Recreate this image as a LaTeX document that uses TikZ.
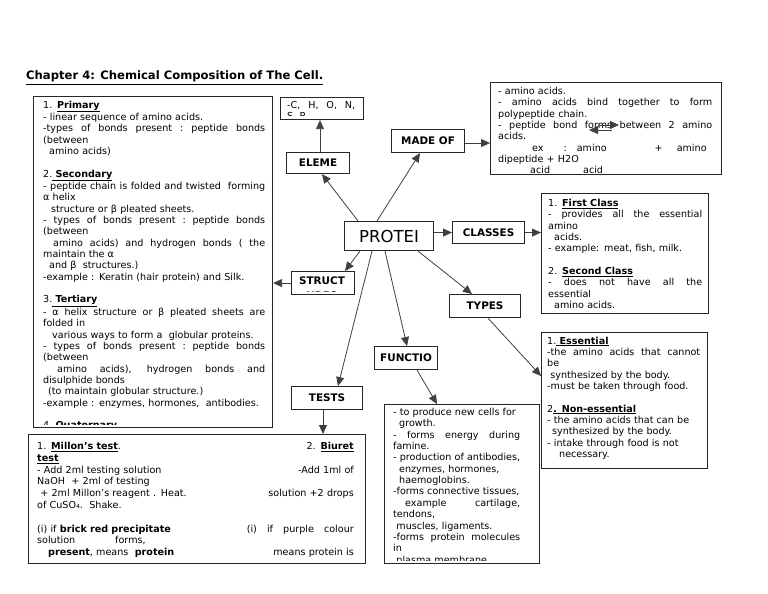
\documentclass[tikz,border=0pt]{standalone}
\usepackage{fontspec}
\setmainfont{DejaVu Sans}
\usetikzlibrary{arrows.meta}
\newcommand\bodyf{\fontsize{9.6pt}{11.35pt}\selectfont}
\newcommand\testf{\fontsize{9.6pt}{11.8pt}\selectfont}
\newcommand\labf{\fontsize{10.4pt}{12pt}\selectfont\bfseries}
\newcommand\ub[1]{\textbf{\underline{#1}}}
\newlength\jw
\newcommand\J[1]{\makebox[\jw][s]{\spaceskip=.318em plus 1em\relax\xspaceskip=.318em plus 1em\relax #1}}
\newcommand\BL{\mbox{}}
\begin{document}
\begin{tikzpicture}[x=1pt,y=-1pt,
  box/.style={draw=black!85, line width=1.1pt, inner sep=0pt, anchor=north west},
  lab/.style={font=\labf},
  conn/.style={draw=black!75, line width=0.8pt, -{Triangle[length=9pt,width=8pt]}},
  txt/.style={anchor=base west, inner sep=0pt, align=left, font=\bodyf},
]
\fill[white] (0,0) rectangle (768,594);
\useasboundingbox (0,0) rectangle (768,594);

% title
\node[anchor=base west, inner sep=0pt, font=\fontsize{11.6pt}{14pt}\selectfont\bfseries] (title) at (26,80) {\underline{Chapter 4: Chemical Composition of The Cell.}};

% boxes
\node[box, minimum width=239pt, minimum height=331pt] (structbox) at (33,96) {};
\node[box, minimum width=83pt, minimum height=22pt] (chon) at (280,97) {};
\node[box, lab, minimum width=63pt, minimum height=21pt] (eleme) at (286,152) {ELEME};
\node[box, lab, minimum width=73pt, minimum height=23pt] (madeof) at (391,129) {MADE OF};
\node[box, minimum width=231pt, minimum height=92pt] (madebox) at (490,82) {};
\node[box, minimum width=89pt, minimum height=29pt, font=\fontsize{16.5pt}{18pt}\selectfont] (protei) at (344,221) {PROTEI};
\node[box, lab, minimum width=72pt, minimum height=22pt] (classes) at (452,221) {CLASSES};
\node[box, minimum width=167pt, minimum height=120pt] (classbox) at (541,193) {};
\node[box, minimum width=63pt, minimum height=23pt] (struct) at (291,271) {};
\node[box, lab, minimum width=71pt, minimum height=23pt] (types) at (449,294) {TYPES};
\node[box, minimum width=166pt, minimum height=136pt] (typebox) at (541,332) {};
\node[box, lab, minimum width=63pt, minimum height=23pt] (functio) at (374,346) {FUNCTIO};
\node[box, lab, minimum width=71pt, minimum height=23pt] (tests) at (291,386) {TESTS};
\node[box, minimum width=155pt, minimum height=159pt] (funcbox) at (384,404) {};
\node[box, minimum width=337pt, minimum height=129pt] (testbox) at (28,434) {};

% STRUCT label (second line cut)
\begin{scope}
\clip (292,272) rectangle (353,291.5);
\node[lab, anchor=base, inner sep=0pt] (structlab) at (322,284) {STRUCT};
\node[lab, anchor=base, inner sep=0pt] (structlab2) at (322,299) {URES};
\end{scope}

% CHON text
\begin{scope}
\clip (281,98) rectangle (362,115);
\node[txt, text width=68pt] (chontxt) at (287,108) {\setlength\jw{68pt}\J{-C, H, O, N,}\\S, P};
\end{scope}

% structure text
\begin{scope}
\clip (34,97) rectangle (271,424);
\node[txt, text width=222pt] (structtxt) at (43,108) {\setlength\jw{222pt}%
1. \ub{Primary}\\
- linear sequence of amino acids.\\
\J{-types of bonds present : peptide bonds}\\
(between\\
\hspace*{6pt}amino acids)\\
\BL\\
2.\ub{\ Secondary}\\
\J{- peptide chain is folded and twisted\ \ forming}\\
α helix\\
\hspace*{8pt}structure or β pleated sheets.\\
\J{- types of bonds present : peptide bonds}\\
(between\\
\J{\hspace*{10pt}amino acids) and hydrogen bonds ( the}\\
maintain the α\\
\hspace*{6pt}and β\ \ structures.)\\
-example : Keratin (hair protein) and Silk.\\
\BL\\
3.\ub{\ Tertiary}\\
\J{- α helix structure or β pleated sheets are}\\
folded in\\
\hspace*{9pt}various ways to form a\ \ globular proteins.\\
\J{- types of bonds present : peptide bonds}\\
(between\\
\J{\hspace*{14pt}amino acids), hydrogen bonds and}\\
disulphide bonds\\
\hspace*{5pt}(to maintain globular structure.)\\
-example : enzymes, hormones,\ \ antibodies.\\
\BL\\
4.\ub{\ Quaternary}};
\end{scope}

% made of text
\begin{scope}
\clip (491,83) rectangle (720,172);
\node[txt, text width=214pt] (madetxt) at (498,94.5) {\setlength\jw{214pt}%
- amino acids.\\
\J{- amino acids bind together to form}\\
polypeptide chain.\\
\J{- peptide bond forms between 2 amino}\\
acids.\\
\hspace*{34pt}ex\hspace{20pt}:\hspace{10pt}amino\hspace{48pt}+\hspace{14pt}amino\\
dipeptide + H2O\\
\hspace*{32pt}acid\hspace{33pt}acid};
\end{scope}
\coordinate (ma1) at (598,125);
\coordinate (ma2) at (619,125);
\coordinate (mb1) at (612,130);
\coordinate (mb2) at (589,130);
\draw[conn] (ma1) -- (ma2);
\draw[conn] (mb1) -- (mb2);

% classes text
\node[txt, text width=154pt] (classtxt) at (548,206.5) {\setlength\jw{154pt}%
1. \ub{First Class}\\
\J{- provides all the essential}\\
amino\\
\hspace*{6pt}acids.\\
- example: meat, fish, milk.\\
\BL\\
2. \ub{Second Class}\\
\J{- does not have all the}\\
essential\\
\hspace*{6pt}amino acids.};

% types text
\node[txt, text width=153pt] (typetxt) at (547,344) {\setlength\jw{153pt}%
1.\ub{\ Essential}\\
\J{-the amino acids that cannot}\\
be\\
\ synthesized by the body.\\
-must be taken through food.\\
\BL\\
2\ub{. Non-essential}\\
- the amino acids that can be\\
\hspace*{5pt}synthesized by the body.\\
- intake through food is not\\
\hspace*{12pt}necessary.};

% function text
\begin{scope}
\clip (385,405) rectangle (538,560);
\node[txt, text width=127pt] (functxt) at (393,415.5) {\setlength\jw{127pt}%
- to produce new cells for\\
\hspace*{6pt}growth.\\
\J{- forms energy during}\\
famine.\\
- production of antibodies,\\
\hspace*{6pt}enzymes, hormones,\\
\hspace*{6pt}haemoglobins.\\
-forms connective tissues,\\
\J{\hspace*{12pt}example cartilage,}\\
tendons,\\
\ muscles, ligaments.\\
\J{-forms protein molecules}\\
in\\
\ plasma membrane};
\end{scope}

% tests text
\begin{scope}
\clip (29,435) rectangle (364,561);
\node[txt, text width=200pt, font=\testf] (testl) at (37,449.5) {%
1. \ub{Millon’s test}.\\
\ub{test}\\
- Add 2ml testing solution\\
NaOH\ \ + 2ml of testing\\
\ + 2ml Millon’s reagent . Heat.\\
of CuSO₄.\ \ Shake.\\
\BL\\
(i) if \textbf{brick red precipitate}\\
solution\hspace{40pt}forms,\\
\hspace*{11pt}\textbf{present}, means\ \ \textbf{protein}};
\node[anchor=base east, inner sep=0pt, text width=150pt, align=right, font=\testf] (testr) at (354,449.5) {\setlength\jw{107pt}%
2. \ub{Biuret}\\
\BL\\
-Add 1ml of\\
\BL\\
solution +2 drops\\
\BL\\
\BL\\
\J{(i) if purple colour}\\
\BL\\
means protein is};
\end{scope}

% connectors
\draw[conn] ([xshift=14pt]protei.north west) -- ([xshift=36pt]eleme.south west);
\draw[conn] ([xshift=33pt]protei.north west) -- ([xshift=29pt]madeof.south west);
\draw[conn] ([xshift=34pt]eleme.north west) -- ([xshift=40pt]chon.south west);
\draw[conn] ([yshift=-2pt]madeof.east) -- ([yshift=-2pt]madeof.east -| madebox.west);
\draw[conn] (protei.east |- classes.west) -- (classes.west);
\draw[conn] (classes.east) -- (classes.east -| classbox.west);
\draw[conn] ([xshift=16pt]protei.south west) -- ([xshift=54pt]struct.north west);
\draw[conn] (struct.west) -- (struct.west -| structbox.east);
\draw[conn] ([xshift=28pt]protei.south west) -- ([xshift=47pt]tests.north west);
\draw[conn] ([xshift=41pt]protei.south west) -- ([xshift=33pt]functio.north west);
\draw[conn] ([xshift=74pt]protei.south west) -- ([xshift=23pt]types.north west);
\draw[conn] ([xshift=39pt]types.south west) -- ([yshift=-44pt]typebox.north west);
\draw[conn] ([xshift=43pt]functio.south west) -- ([xshift=53pt]funcbox.north west);
\draw[conn] ([xshift=32pt]tests.south west) -- ([xshift=295pt]testbox.north west);
\end{tikzpicture}
\end{document}
